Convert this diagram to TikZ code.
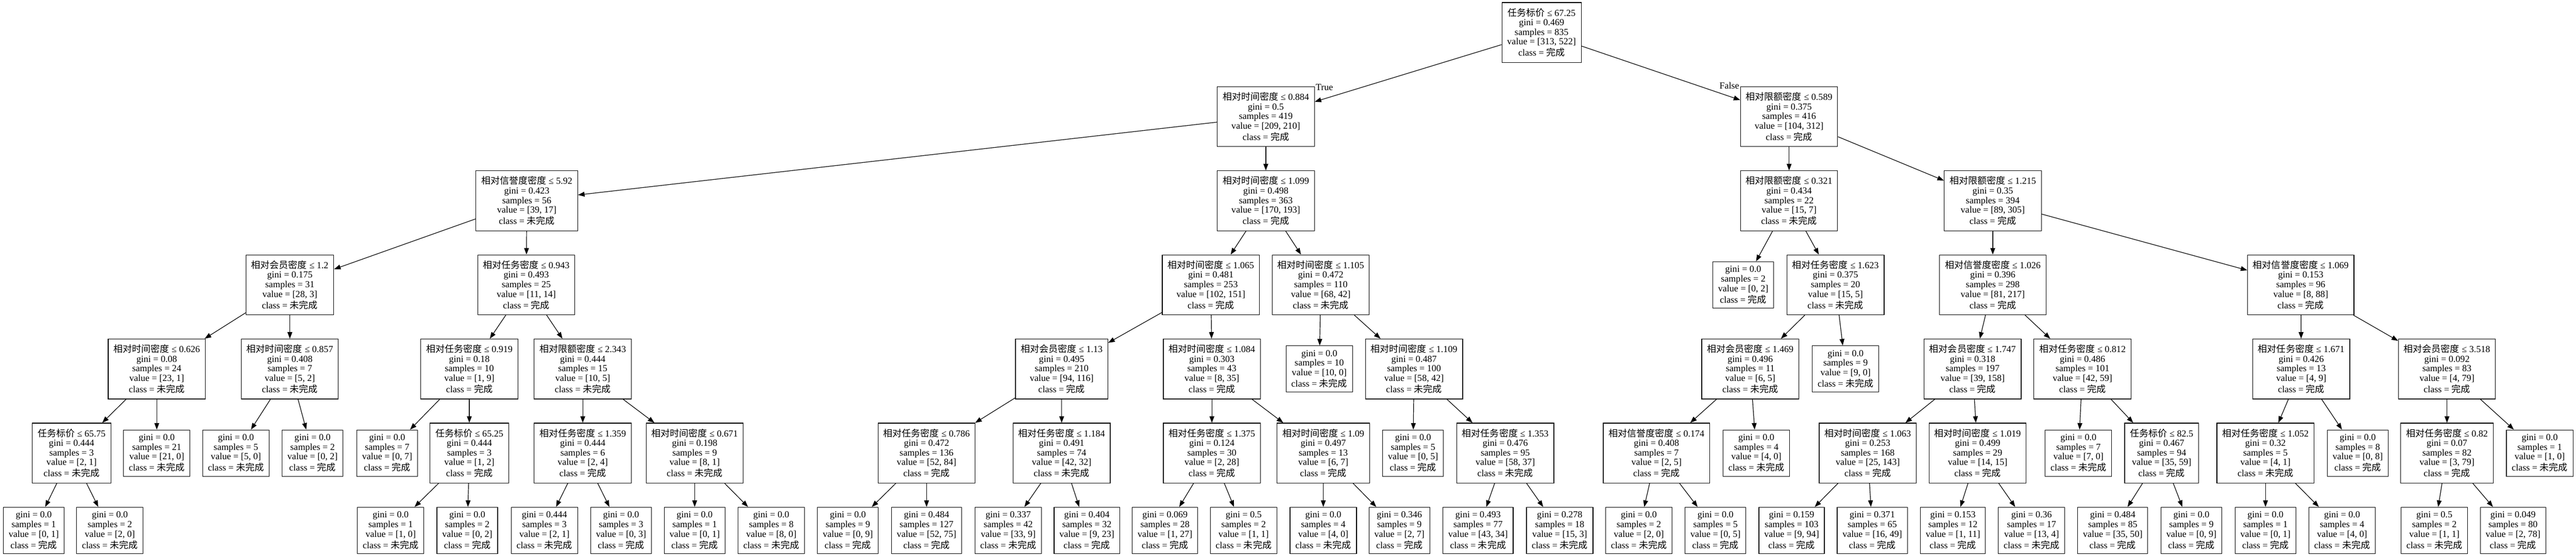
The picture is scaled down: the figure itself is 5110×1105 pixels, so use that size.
\documentclass[tikz,border=0pt]{standalone}
\usepackage{fontspec}
\setmainfont{Liberation Serif}
\newfontfamily\cjk{Noto Sans CJK SC}
\usetikzlibrary{arrows.meta}

\begin{document}
\begin{tikzpicture}[x=0.02cm, y=-0.02cm,
  box/.style={draw, line width=0.7pt, align=center, inner xsep=6pt, inner ysep=2pt, font=\fontsize{10.5}{10.8}\selectfont},
  split/.style={box, minimum height=2.38cm},
  leaf/.style={box, minimum height=1.84cm},
  arr/.style={-{Triangle[length=0.26cm, width=0.19cm]}, line width=0.7pt}]
\useasboundingbox (0,0) rectangle (5110,1105);
% decision nodes
\foreach \nm/\px/\py/\feat/\thr/\gin/\smp/\val/\cls in {
  root/3058/64.5/任务标价/67.25/0.469/835/{313, 522}/完成,
  n1/2511/231.5/相对时间密度/0.884/0.5/419/{209, 210}/完成,
  n2/3549/231.5/相对限额密度/0.589/0.375/416/{104, 312}/完成,
  n3/1045/398.5/相对信誉度密度/5.92/0.423/56/{39, 17}/未完成,
  n4/2511/398.5/相对时间密度/1.099/0.498/363/{170, 193}/完成,
  n5/3549/398.5/相对限额密度/0.321/0.434/22/{15, 7}/未完成,
  n6/3953/398.5/相对限额密度/1.215/0.35/394/{89, 305}/完成,
  n7/575/565.5/相对会员密度/1.2/0.175/31/{28, 3}/未完成,
  n8/1044/565.5/相对任务密度/0.943/0.493/25/{11, 14}/完成,
  n9/2402/565.5/相对时间密度/1.065/0.481/253/{102, 151}/完成,
  n10/2620/565.5/相对时间密度/1.105/0.472/110/{68, 42}/未完成,
  n11/3641/565.5/相对任务密度/1.623/0.375/20/{15, 5}/未完成,
  n12/3953/565.5/相对信誉度密度/1.026/0.396/298/{81, 217}/完成,
  n13/4564/565.5/相对信誉度密度/1.069/0.153/96/{8, 88}/完成,
  n14/311/732.5/相对时间密度/0.626/0.08/24/{23, 1}/未完成,
  n15/575/732.5/相对时间密度/0.857/0.408/7/{5, 2}/未完成,
  n16/931/732.5/相对任务密度/0.919/0.18/10/{1, 9}/完成,
  n17/1156/732.5/相对限额密度/2.343/0.444/15/{10, 5}/未完成,
  n18/2106/732.5/相对会员密度/1.13/0.495/210/{94, 116}/完成,
  n19/2404/732.5/相对时间密度/1.084/0.303/43/{8, 35}/完成,
  n20/2805/732.5/相对时间密度/1.109/0.487/100/{58, 42}/未完成,
  n21/3472/732.5/相对会员密度/1.469/0.496/11/{6, 5}/未完成,
  n22/3913/732.5/相对会员密度/1.747/0.318/197/{39, 158}/完成,
  n23/4131/732.5/相对任务密度/0.812/0.486/101/{42, 59}/完成,
  n24/4565/732.5/相对任务密度/1.671/0.426/13/{4, 9}/完成,
  n25/4854/732.5/相对会员密度/3.518/0.092/83/{4, 79}/完成,
  n26/142/899.5/任务标价/65.75/0.444/3/{2, 1}/未完成,
  n27/931/899.5/任务标价/65.25/0.444/3/{1, 2}/完成,
  n28/1156/899.5/相对任务密度/1.359/0.444/6/{2, 4}/完成,
  n29/1378/899.5/相对时间密度/0.671/0.198/9/{8, 1}/未完成,
  n30/1838/899.5/相对任务密度/0.786/0.472/136/{52, 84}/完成,
  n31/2106/899.5/相对任务密度/1.184/0.491/74/{42, 32}/未完成,
  n32/2404/899.5/相对任务密度/1.375/0.124/30/{2, 28}/完成,
  n33/2625/899.5/相对时间密度/1.09/0.497/13/{6, 7}/完成,
  n34/2986/899.5/相对任务密度/1.353/0.476/95/{58, 37}/未完成,
  n35/3286/899.5/相对信誉度密度/0.174/0.408/7/{2, 5}/完成,
  n36/3705/899.5/相对时间密度/1.063/0.253/168/{25, 143}/完成,
  n37/3923/899.5/相对时间密度/1.019/0.499/29/{14, 15}/完成,
  n38/4288/899.5/任务标价/82.5/0.467/94/{35, 59}/完成,
  n39/4494/899.5/相对任务密度/1.052/0.32/5/{4, 1}/未完成,
  n40/4854/899.5/相对任务密度/0.82/0.07/82/{3, 79}/完成}
  \node[split] (\nm) at (\px,\py) {{\cjk\feat} ≤ \thr\\gini = \gin\\samples = \smp\\value = [\val]\\[2pt]class = {\cjk\cls}};
% leaves
\foreach \nm/\px/\py/\gin/\smp/\val/\cls in {
  l1/3458/565.5/0.0/2/{0, 2}/完成,
  l2/2617/732.5/0.0/10/{10, 0}/未完成,
  l3/3661/732.5/0.0/9/{9, 0}/未完成,
  l4/311/899.5/0.0/21/{21, 0}/未完成,
  l5/468/899.5/0.0/5/{5, 0}/未完成,
  l6/620/899.5/0.0/2/{0, 2}/完成,
  l7/768/899.5/0.0/7/{0, 7}/完成,
  l8/2803/899.5/0.0/5/{0, 5}/完成,
  l9/3484/899.5/0.0/4/{4, 0}/未完成,
  l10/4123/899.5/0.0/7/{7, 0}/未完成,
  l11/4677/899.5/0.0/8/{0, 8}/完成,
  l12/5038/899.5/0.0/1/{1, 0}/未完成,
  l13/67/1053/0.0/1/{0, 1}/完成,
  l14/218/1053/0.0/2/{2, 0}/未完成,
  l15/775/1053/0.0/1/{1, 0}/未完成,
  l16/927/1053/0.0/2/{0, 2}/完成,
  l17/1080/1053/0.444/3/{2, 1}/未完成,
  l18/1232/1053/0.0/3/{0, 3}/完成,
  l19/1378/1053/0.0/1/{0, 1}/完成,
  l20/1530/1053/0.0/8/{8, 0}/未完成,
  l21/1682/1053/0.0/9/{0, 9}/完成,
  l22/1838/1053/0.484/127/{52, 75}/完成,
  l23/2000/1053/0.337/42/{33, 9}/未完成,
  l24/2156/1053/0.404/32/{9, 23}/完成,
  l25/2311/1053/0.069/28/{1, 27}/完成,
  l26/2467/1053/0.5/2/{1, 1}/未完成,
  l27/2625/1053/0.0/4/{4, 0}/未完成,
  l28/2776/1053/0.346/9/{2, 7}/完成,
  l29/2932/1053/0.493/77/{43, 34}/未完成,
  l30/3094/1053/0.278/18/{15, 3}/未完成,
  l31/3251/1053/0.0/2/{2, 0}/未完成,
  l32/3403/1053/0.0/5/{0, 5}/完成,
  l33/3554/1053/0.159/103/{9, 94}/完成,
  l34/3714/1053/0.371/65/{16, 49}/完成,
  l35/3874/1053/0.153/12/{1, 11}/完成,
  l36/4030/1053/0.36/17/{13, 4}/未完成,
  l37/4191/1053/0.484/85/{35, 50}/完成,
  l38/4347/1053/0.0/9/{0, 9}/完成,
  l39/4494/1053/0.0/1/{0, 1}/完成,
  l40/4646/1053/0.0/4/{4, 0}/未完成,
  l41/4829/1053/0.5/2/{1, 1}/未完成,
  l42/4985/1053/0.049/80/{2, 78}/完成}
  \node[leaf] (\nm) at (\px,\py) {gini = \gin\\samples = \smp\\value = [\val]\\[2pt]class = {\cjk\cls}};
% branches
\foreach \a/\b in {root/n1, root/n2, n1/n3, n1/n4, n2/n5, n2/n6, n3/n7, n3/n8, n4/n9, n4/n10,
  n5/l1, n5/n11, n6/n12, n6/n13, n7/n14, n7/n15, n8/n16, n8/n17, n9/n18, n9/n19,
  n10/l2, n10/n20, n11/n21, n11/l3, n12/n22, n12/n23, n13/n24, n13/n25,
  n14/n26, n14/l4, n15/l5, n15/l6, n16/l7, n16/n27, n17/n28, n17/n29,
  n18/n30, n18/n31, n19/n32, n19/n33, n20/l8, n20/n34, n21/n35, n21/l9,
  n22/n36, n22/n37, n23/l10, n23/n38, n24/n39, n24/l11, n25/n40, n25/l12,
  n26/l13, n26/l14, n27/l15, n27/l16, n28/l17, n28/l18, n29/l19, n29/l20,
  n30/l21, n30/l22, n31/l23, n31/l24, n32/l25, n32/l26, n33/l27, n33/l28,
  n34/l29, n34/l30, n35/l31, n35/l32, n36/l33, n36/l34, n37/l35, n37/l36,
  n38/l37, n38/l38, n39/l39, n39/l40, n40/l41, n40/l42}
  \draw[arr] (\a) -- (\b);
\node[anchor=west, inner sep=1pt, font=\fontsize{10.5}{10.8}\selectfont] (lbltrue) at ([yshift=-0.05cm]n1.north east) {True};
\node[anchor=east, inner sep=1pt, font=\fontsize{10.5}{10.8}\selectfont] (lblfalse) at ([yshift=0.03cm]n2.north west) {False};
\end{tikzpicture}
\end{document}
